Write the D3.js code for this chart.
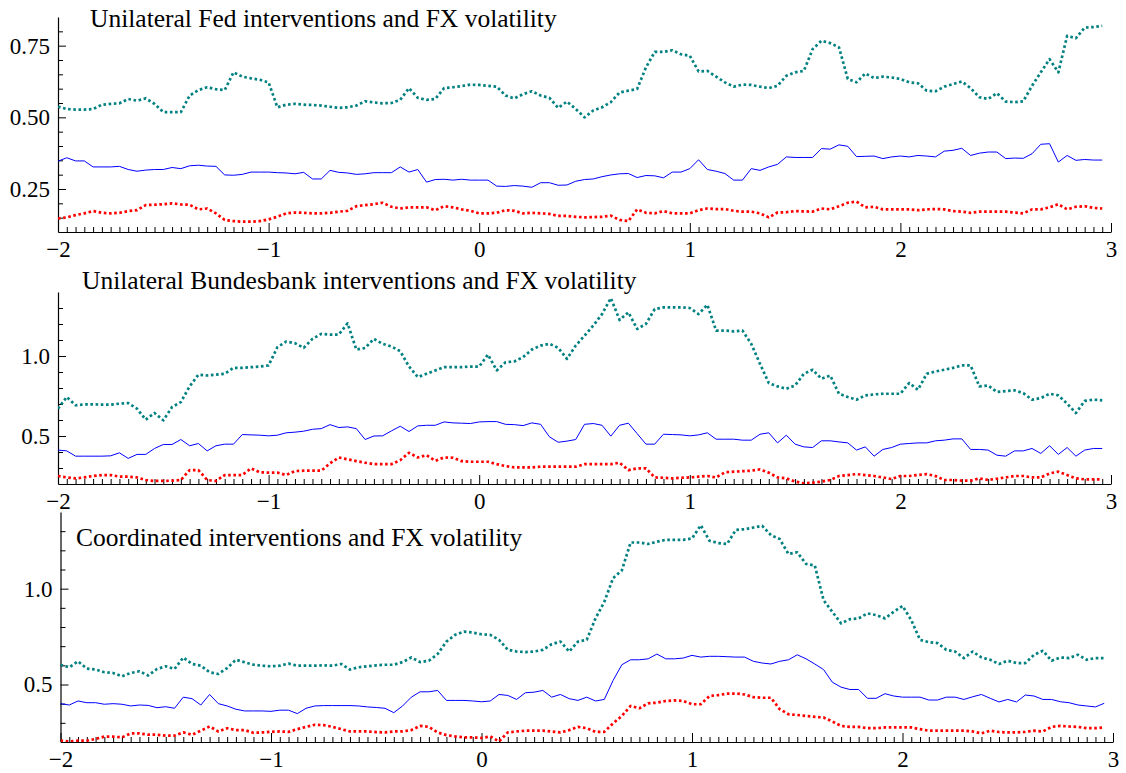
<!DOCTYPE html>
<html><head><meta charset="utf-8">
<script src="https://cdn.jsdelivr.net/npm/d3@7"></script>
<style>
body{margin:0;background:#fff}
svg{display:block;background:#fff}
</style>
</head><body>
<svg id="chart" width="1126" height="773"></svg>
<script>
// hourly event-time grid, in days relative to the intervention
const hours = d3.range(-48, 72);
const xValues = hours.map(h => h / 24);
const xTickLabels = ["\u22122", "\u22121", "0", "1", "2", "3"];

const titles = [
  "Unilateral Fed interventions and FX volatility",
  "Unilateral Bundesbank interventions and FX volatility",
  "Coordinated interventions and FX volatility"
];

const fedTeal = [
0.537,0.529,0.527,0.527,0.529,0.544,0.547,0.549,0.564,0.558,
0.566,0.547,0.518,0.518,0.518,0.576,0.595,0.605,0.598,0.595,
0.657,0.642,0.636,0.631,0.622,0.535,0.544,0.547,0.544,0.543,
0.541,0.537,0.533,0.535,0.541,0.556,0.552,0.549,0.550,0.561,
0.602,0.568,0.561,0.564,0.602,0.605,0.609,0.614,0.613,0.610,
0.607,0.576,0.566,0.581,0.591,0.576,0.568,0.533,0.555,0.529,
0.500,0.524,0.535,0.553,0.587,0.593,0.599,0.674,0.728,0.728,
0.734,0.720,0.715,0.660,0.662,0.642,0.622,0.607,0.614,0.613,
0.607,0.602,0.610,0.645,0.657,0.662,0.738,0.767,0.759,0.744,
0.634,0.622,0.653,0.637,0.642,0.639,0.634,0.622,0.619,0.593,
0.591,0.607,0.616,0.625,0.602,0.570,0.564,0.584,0.555,0.553,
0.556,0.610,0.657,0.703,0.657,0.784,0.776,0.813,0.815,0.819];
const fedBlue = [
0.347,0.359,0.348,0.348,0.327,0.327,0.327,0.329,0.318,0.312,
0.316,0.318,0.318,0.325,0.321,0.331,0.333,0.330,0.329,0.299,
0.298,0.301,0.309,0.309,0.309,0.307,0.306,0.303,0.308,0.285,
0.285,0.315,0.308,0.306,0.301,0.303,0.307,0.307,0.307,0.327,
0.309,0.318,0.274,0.283,0.284,0.281,0.284,0.281,0.281,0.281,
0.260,0.259,0.262,0.260,0.256,0.272,0.272,0.263,0.264,0.277,
0.283,0.285,0.293,0.299,0.303,0.304,0.290,0.297,0.296,0.289,
0.309,0.309,0.321,0.352,0.318,0.312,0.304,0.281,0.281,0.321,
0.315,0.327,0.336,0.362,0.360,0.360,0.360,0.391,0.389,0.404,
0.399,0.363,0.364,0.365,0.356,0.362,0.365,0.362,0.367,0.365,
0.362,0.382,0.385,0.392,0.367,0.375,0.379,0.379,0.356,0.358,
0.357,0.373,0.406,0.408,0.344,0.367,0.350,0.353,0.351,0.351];
const fedRed = [
0.147,0.151,0.159,0.165,0.173,0.167,0.165,0.167,0.173,0.176,
0.194,0.195,0.197,0.200,0.196,0.195,0.179,0.182,0.165,0.142,
0.138,0.136,0.136,0.138,0.144,0.153,0.165,0.168,0.167,0.165,
0.165,0.167,0.171,0.174,0.190,0.194,0.197,0.202,0.188,0.182,
0.186,0.186,0.186,0.176,0.190,0.186,0.179,0.174,0.165,0.165,
0.167,0.176,0.174,0.165,0.167,0.165,0.163,0.156,0.156,0.153,
0.151,0.152,0.153,0.157,0.142,0.138,0.179,0.167,0.165,0.173,
0.165,0.165,0.165,0.176,0.182,0.180,0.180,0.174,0.171,0.171,
0.165,0.151,0.168,0.169,0.173,0.172,0.171,0.182,0.179,0.190,
0.202,0.206,0.186,0.188,0.179,0.179,0.179,0.179,0.176,0.179,
0.180,0.179,0.173,0.171,0.167,0.171,0.171,0.171,0.171,0.168,
0.165,0.179,0.179,0.186,0.197,0.179,0.188,0.190,0.184,0.182];

const bbTeal = [
0.671,0.744,0.692,0.698,0.698,0.696,0.696,0.702,0.706,0.671,
0.602,0.644,0.598,0.681,0.712,0.810,0.883,0.878,0.883,0.889,
0.926,0.926,0.930,0.934,0.941,1.055,1.090,1.080,1.051,1.107,
1.138,1.134,1.134,1.204,1.040,1.050,1.107,1.076,1.059,1.030,
0.934,0.868,0.889,0.910,0.930,0.930,0.930,0.934,0.934,1.009,
0.910,0.961,0.966,0.993,1.040,1.065,1.076,1.051,0.982,1.065,
1.127,1.190,1.262,1.362,1.225,1.273,1.169,1.200,1.293,1.304,
1.304,1.304,1.300,1.262,1.320,1.159,1.159,1.154,1.159,1.076,
0.951,0.831,0.810,0.795,0.816,0.889,0.914,0.858,0.878,0.764,
0.744,0.727,0.754,0.760,0.764,0.764,0.764,0.831,0.789,0.889,
0.903,0.914,0.926,0.941,0.941,0.810,0.816,0.775,0.781,0.785,
0.768,0.727,0.737,0.764,0.754,0.702,0.644,0.719,0.727,0.723];
const bbBlue = [
0.412,0.407,0.374,0.374,0.374,0.374,0.376,0.395,0.360,0.385,
0.385,0.422,0.447,0.447,0.478,0.439,0.453,0.407,0.439,0.449,
0.449,0.509,0.507,0.505,0.501,0.505,0.520,0.524,0.530,0.542,
0.546,0.571,0.553,0.557,0.546,0.478,0.500,0.501,0.532,0.561,
0.528,0.563,0.567,0.567,0.588,0.582,0.580,0.578,0.588,0.590,
0.590,0.573,0.571,0.565,0.582,0.573,0.495,0.461,0.468,0.478,
0.573,0.578,0.567,0.499,0.567,0.580,0.515,0.449,0.449,0.511,
0.509,0.507,0.501,0.507,0.520,0.480,0.480,0.480,0.474,0.474,
0.511,0.520,0.457,0.505,0.449,0.432,0.428,0.470,0.470,0.463,
0.457,0.412,0.432,0.374,0.416,0.428,0.449,0.453,0.457,0.457,
0.470,0.474,0.482,0.482,0.416,0.416,0.412,0.380,0.374,0.407,
0.407,0.422,0.391,0.439,0.385,0.428,0.374,0.412,0.422,0.422];
const bbRed = [
0.250,0.241,0.235,0.241,0.250,0.256,0.256,0.246,0.246,0.241,
0.225,0.219,0.219,0.221,0.225,0.287,0.287,0.225,0.219,0.256,
0.256,0.256,0.298,0.273,0.271,0.271,0.256,0.281,0.283,0.283,
0.283,0.329,0.366,0.354,0.343,0.333,0.324,0.324,0.324,0.349,
0.395,0.366,0.380,0.345,0.366,0.364,0.343,0.339,0.339,0.339,
0.324,0.312,0.304,0.304,0.304,0.308,0.308,0.308,0.308,0.308,
0.324,0.324,0.324,0.324,0.333,0.287,0.298,0.298,0.241,0.239,
0.235,0.239,0.241,0.246,0.250,0.241,0.273,0.277,0.280,0.283,
0.291,0.271,0.241,0.235,0.215,0.204,0.208,0.215,0.225,0.250,
0.256,0.262,0.256,0.250,0.241,0.231,0.250,0.250,0.256,0.262,
0.250,0.225,0.225,0.221,0.221,0.235,0.225,0.233,0.241,0.250,
0.250,0.241,0.241,0.266,0.277,0.256,0.235,0.229,0.229,0.229];

const coTeal = [
0.603,0.590,0.621,0.583,0.578,0.564,0.560,0.543,0.560,0.569,
0.547,0.581,0.595,0.581,0.641,0.607,0.598,0.564,0.555,0.586,
0.629,0.616,0.603,0.598,0.595,0.598,0.609,0.598,0.598,0.598,
0.600,0.598,0.607,0.578,0.590,0.595,0.600,0.603,0.603,0.617,
0.641,0.617,0.624,0.659,0.724,0.759,0.776,0.771,0.762,0.759,
0.733,0.681,0.672,0.669,0.672,0.681,0.710,0.724,0.672,0.724,
0.733,0.845,0.931,1.055,1.095,1.241,1.241,1.233,1.245,1.255,
1.255,1.255,1.262,1.331,1.250,1.238,1.233,1.307,1.310,1.319,
1.328,1.279,1.259,1.181,1.190,1.129,1.121,0.940,0.879,0.819,
0.841,0.845,0.871,0.862,0.845,0.879,0.910,0.836,0.733,0.721,
0.716,0.681,0.672,0.638,0.672,0.641,0.629,0.607,0.624,0.612,
0.612,0.655,0.676,0.624,0.641,0.638,0.655,0.629,0.638,0.638];
const coBlue = [
0.400,0.393,0.414,0.405,0.405,0.397,0.400,0.397,0.388,0.393,
0.391,0.379,0.384,0.376,0.434,0.426,0.393,0.448,0.400,0.388,
0.371,0.362,0.362,0.362,0.360,0.366,0.366,0.348,0.376,0.388,
0.390,0.390,0.390,0.390,0.388,0.383,0.380,0.376,0.353,0.388,
0.434,0.462,0.462,0.469,0.417,0.417,0.417,0.414,0.410,0.414,
0.448,0.443,0.422,0.457,0.460,0.469,0.434,0.448,0.426,0.417,
0.434,0.414,0.422,0.521,0.603,0.629,0.629,0.634,0.659,0.634,
0.634,0.638,0.652,0.643,0.647,0.647,0.645,0.643,0.643,0.621,
0.612,0.607,0.621,0.629,0.655,0.634,0.607,0.578,0.512,0.486,
0.474,0.474,0.428,0.428,0.452,0.440,0.434,0.434,0.434,0.419,
0.419,0.434,0.434,0.422,0.436,0.448,0.428,0.409,0.422,0.409,
0.445,0.440,0.422,0.422,0.410,0.405,0.393,0.388,0.383,0.402];
const coRed = [
0.207,0.203,0.207,0.207,0.216,0.228,0.228,0.224,0.245,0.245,
0.238,0.238,0.233,0.233,0.250,0.238,0.259,0.281,0.255,0.272,
0.262,0.262,0.248,0.250,0.253,0.255,0.253,0.267,0.279,0.290,
0.288,0.279,0.267,0.255,0.255,0.255,0.252,0.250,0.255,0.255,
0.262,0.284,0.279,0.250,0.236,0.229,0.224,0.224,0.221,0.229,
0.203,0.250,0.255,0.259,0.259,0.259,0.255,0.250,0.262,0.279,
0.272,0.253,0.253,0.297,0.336,0.388,0.376,0.402,0.405,0.414,
0.417,0.414,0.397,0.397,0.440,0.445,0.452,0.453,0.448,0.434,
0.431,0.431,0.371,0.345,0.341,0.336,0.331,0.328,0.307,0.284,
0.279,0.279,0.272,0.272,0.276,0.276,0.276,0.276,0.267,0.259,
0.259,0.259,0.259,0.259,0.255,0.245,0.259,0.252,0.250,0.250,
0.253,0.259,0.255,0.279,0.284,0.281,0.279,0.272,0.272,0.276];

const yDomains = [[0.1, 0.85], [0.2, 1.4], [0.2, 1.4]];
const yMajor = [[0.25, 0.5, 0.75], [0.5, 1.0], [0.5, 1.0]];
const yMinorStep = [0.05, 0.1, 0.1];
const yFormats = [".2f", ".1f", ".1f"];

// layout (pixels)
const boxes = [
  {left: 58, right: 1111, top: 17, bottom: 232, tx: 90, ty: 27},
  {left: 58, right: 1111, top: 292, bottom: 484, tx: 82, ty: 289},
  {left: 60.5, right: 1113, top: 512, bottom: 742, tx: 76, ty: 546}
];
const seriesStyle = [
  {color: "#008080", width: 2.7, dash: "2.6,2.6"},
  {color: "#0000ff", width: 1, dash: null},
  {color: "#ff0000", width: 2.7, dash: "2.6,2.6"}
];
const panelSeries = [
  [fedTeal, fedBlue, fedRed],
  [bbTeal, bbBlue, bbRed],
  [coTeal, coBlue, coRed]
];

const svg = d3.select("#chart");
const FONT = "'Liberation Serif','Times New Roman',Times,serif";

const majorX = [-2, -1, 0, 1, 2, 3];
const minorX = d3.range(-48, 73).filter(h => h % 24 !== 0).map(h => h / 24);

boxes.forEach((b, p) => {
  const x = d3.scaleLinear().domain([-2, 3]).range([b.left, b.right]);
  const y = d3.scaleLinear().domain(yDomains[p]).range([b.bottom, b.top]);
  const g = svg.append("g");

  const cid = "clip" + p;
  svg.append("clipPath").attr("id", cid).append("rect")
    .attr("x", b.left).attr("y", b.top - 4)
    .attr("width", b.right - b.left + 2).attr("height", b.bottom - b.top + 4);

  const [d0, d1] = yDomains[p];
  const st = yMinorStep[p];
  const nMin = Math.round((d1 - d0) / st);
  const yMinor = d3.range(1, nMin).map(k => +(d0 + k * st).toFixed(3))
    .filter(v => !yMajor[p].some(m => Math.abs(m - v) < 1e-6));
  g.append("g").attr("transform", `translate(${b.left},0)`)
    .call(d3.axisLeft(y).tickValues(yMinor).tickSizeInner(-5).tickSizeOuter(0).tickFormat(""))
    .call(s => s.select(".domain").remove());
  const ya = g.append("g").attr("transform", `translate(${b.left},0)`)
    .call(d3.axisLeft(y).tickValues(yMajor[p]).tickSizeInner(-8).tickSizeOuter(0)
      .tickPadding(8).tickFormat(d3.format(yFormats[p])));
  ya.select(".domain").attr("stroke", "#000").attr("stroke-width", 1.2);
  ya.selectAll("text").attr("font-family", FONT).attr("font-size", 23).attr("fill", "#000");

  g.append("g").attr("transform", `translate(0,${b.bottom})`)
    .call(d3.axisBottom(x).tickValues(minorX).tickSizeInner(-5).tickSizeOuter(0).tickFormat(""))
    .call(s => s.select(".domain").remove());
  const xa = g.append("g").attr("transform", `translate(0,${b.bottom})`)
    .call(d3.axisBottom(x).tickValues(majorX).tickSizeInner(-9).tickSizeOuter(0)
      .tickPadding(9).tickFormat((d, i) => xTickLabels[i]));
  xa.select(".domain").attr("stroke", "#000").attr("stroke-width", 1.2);
  xa.selectAll("text").attr("font-family", FONT).attr("font-size", 23).attr("fill", "#000");

  const line = d3.line().x((d, i) => x(xValues[i])).y(d => y(d));
  const lg = g.append("g").attr("clip-path", `url(#${cid})`);
  panelSeries[p].forEach((s, k) => {
    const ss = seriesStyle[k];
    lg.append("path").datum(s)
      .attr("d", line)
      .attr("fill", "none")
      .attr("stroke", ss.color)
      .attr("stroke-width", ss.width)
      .attr("stroke-dasharray", ss.dash)
      .attr("stroke-linejoin", "round");
  });

  g.append("text").attr("x", b.tx).attr("y", b.ty)
    .attr("font-family", FONT).attr("font-size", 25.5).attr("fill", "#000")
    .text(titles[p]);
});
</script>
</body></html>
